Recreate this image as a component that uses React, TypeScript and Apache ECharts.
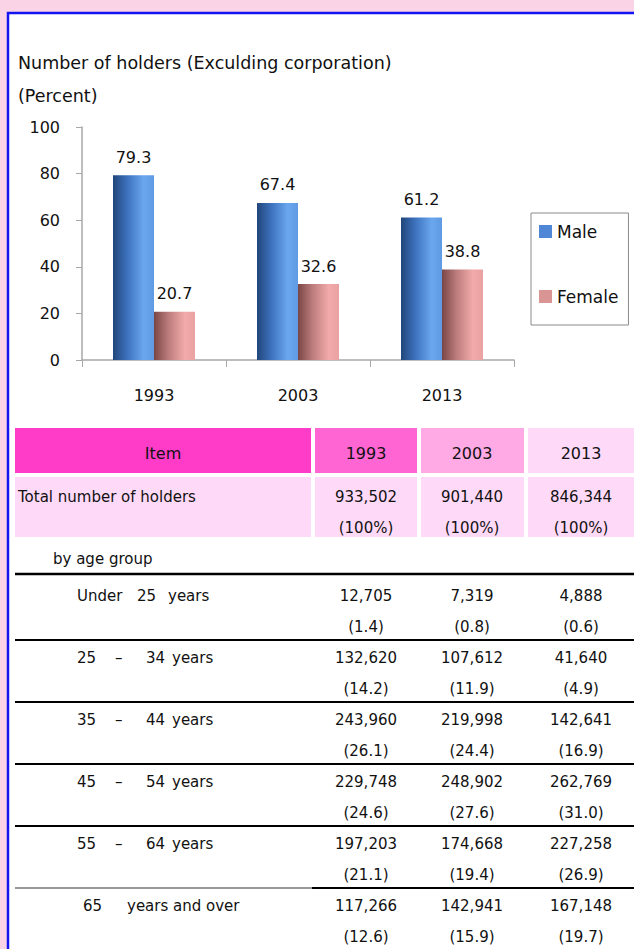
import React, { useEffect, useRef } from "react";
import * as echarts from "echarts";

const years = ["1993", "2003", "2013"];
const maleShare = [79.3, 67.4, 61.2];
const femaleShare = [20.7, 32.6, 38.8];

const totalHolders = [933502, 901440, 846344];
const totalShare = ["100%", "100%", "100%"];

const ageGroupLabels = [
  ["Under", "25", "years"],
  ["25", "–", "34", "years"],
  ["35", "–", "44", "years"],
  ["45", "–", "54", "years"],
  ["55", "–", "64", "years"],
  ["65", "years and over"],
];
const holders1993 = [12705, 132620, 243960, 229748, 197203, 117266];
const holders2003 = [7319, 107612, 219998, 248902, 174668, 142941];
const holders2013 = [4888, 41640, 142641, 262769, 227258, 167148];
const share1993 = [1.4, 14.2, 26.1, 24.6, 21.1, 12.6];
const share2003 = [0.8, 11.9, 24.4, 27.6, 19.4, 15.9];
const share2013 = [0.6, 4.9, 16.9, 31.0, 26.9, 19.7];

const FONT = "DejaVu Sans";

function txt(x: number, y: number, text: string, size: number, align = "left") {
  return {
    type: "text",
    x,
    y,
    z: 5,
    style: {
      text,
      fill: "#111",
      fontSize: size,
      fontFamily: FONT,
      align,
      verticalAlign: "middle",
      textAlign: align,
      textVerticalAlign: "middle",
    },
  };
}

export default function App() {
  const ref = useRef<HTMLDivElement>(null);
  useEffect(() => {
    if (!ref.current) return;
    const chart = echarts.init(ref.current, null, { renderer: "svg" });

    const colX = [
      [315, 417],
      [421, 524],
      [528, 640],
    ];
    const colCenter = [366, 472, 581];
    const headerColors = ["#FF66D4", "#FFAAE4", "#FFDAF8"];
    const els: any[] = [];

    // frame
    els.push({
      type: "rect",
      z: -1,
      shape: { x: 8, y: 13, width: 660, height: 960 },
      style: { fill: "#ffffff", stroke: "#1414F2", lineWidth: 2.5 },
    });
    els.push(txt(18, 63, "Number of holders (Exculding corporation)", 17.5));
    els.push(txt(18, 96, "(Percent)", 17.5));

    // header row
    els.push({ type: "rect", shape: { x: 15, y: 428, width: 296, height: 45 }, style: { fill: "#FF3CC8" } });
    els.push(txt(163, 453, "Item", 16, "center"));
    years.forEach((yr, i) => {
      els.push({
        type: "rect",
        shape: { x: colX[i][0], y: 428, width: colX[i][1] - colX[i][0], height: 45 },
        style: { fill: headerColors[i] },
      });
      els.push(txt(colCenter[i], 453, yr, 16, "center"));
    });

    // total row
    els.push({ type: "rect", shape: { x: 15, y: 477, width: 296, height: 60 }, style: { fill: "#FFDAF8" } });
    els.push(txt(18, 497, "Total number of holders", 15));
    years.forEach((_, i) => {
      els.push({
        type: "rect",
        shape: { x: colX[i][0], y: 477, width: colX[i][1] - colX[i][0], height: 60 },
        style: { fill: "#FFDAF8" },
      });
      els.push(txt(colCenter[i], 497, totalHolders[i].toLocaleString("en-US"), 15, "center"));
      els.push(txt(colCenter[i], 528, "(" + totalShare[i] + ")", 15, "center"));
    });

    els.push(txt(53, 559, "by age group", 15));
    els.push({
      type: "line",
      shape: { x1: 15, y1: 574, x2: 640, y2: 574 },
      style: { stroke: "#000", lineWidth: 2.5 },
    });

    const holders = [holders1993, holders2003, holders2013];
    const shares = [share1993, share2003, share2013];
    const partX: Record<number, number[]> = {
      2: [83, 127],
      3: [77, 137, 168],
      4: [77, 115, 146, 172],
    };
    const nRows = ageGroupLabels.length;
    ageGroupLabels.forEach((parts, r) => {
      const yv = 596 + 62 * r;
      const xs = partX[parts.length];
      parts.forEach((p, k) => els.push(txt(xs[k], yv, p, 15)));
      for (let c = 0; c < 3; c++) {
        els.push(txt(colCenter[c], yv, holders[c][r].toLocaleString("en-US"), 15, "center"));
        els.push(txt(colCenter[c], yv + 31, "(" + shares[c][r].toFixed(1) + ")", 15, "center"));
      }
      const ly = 640 + 62 * r;
      if (r < nRows - 2) {
        els.push({
          type: "line",
          shape: { x1: 15, y1: ly, x2: 640, y2: ly },
          style: { stroke: "#000", lineWidth: 2 },
        });
      } else if (r === nRows - 2) {
        els.push({
          type: "line",
          shape: { x1: 15, y1: ly, x2: 312, y2: ly },
          style: { stroke: "#333", lineWidth: 1.2 },
        });
        els.push({
          type: "line",
          shape: { x1: 312, y1: ly, x2: 640, y2: ly },
          style: { stroke: "#000", lineWidth: 2 },
        });
      }
    });

    const maleGrad = new echarts.graphic.LinearGradient(0, 0, 1, 0, [
      { offset: 0, color: "#21467A" },
      { offset: 0.35, color: "#3D72BE" },
      { offset: 0.75, color: "#6AA7EE" },
      { offset: 1, color: "#5F9AE2" },
    ]);
    const femaleGrad = new echarts.graphic.LinearGradient(0, 0, 1, 0, [
      { offset: 0, color: "#7A4646" },
      { offset: 0.35, color: "#BC7C7C" },
      { offset: 0.75, color: "#F2AAAA" },
      { offset: 1, color: "#E9A1A1" },
    ]);

    chart.setOption({
      animation: false,
      backgroundColor: "#FBD3E7",
      textStyle: { fontFamily: FONT },
      grid: { left: 82, top: 127, width: 432, height: 233 },
      legend: {
        orient: "vertical",
        left: 531,
        top: 213,
        padding: [10, 10, 20, 8],
        itemGap: 48,
        itemWidth: 13,
        itemHeight: 13,
        icon: "rect",
        borderColor: "#8a8a8a",
        borderWidth: 1,
        textStyle: { fontSize: 17, color: "#111", fontFamily: FONT },
        data: [
          { name: "Male", itemStyle: { color: "#4F86D6" } },
          { name: "Female", itemStyle: { color: "#D99594" } },
        ],
      },
      xAxis: {
        type: "category",
        data: years,
        axisLine: { lineStyle: { color: "#A8A8A8", width: 1.5 } },
        axisTick: { show: true, length: 7, interval: 0, lineStyle: { color: "#A8A8A8" } },
        axisLabel: { margin: 27, fontSize: 16, color: "#111", fontFamily: FONT },
      },
      yAxis: {
        type: "value",
        min: 0,
        max: 100,
        interval: 20,
        axisLine: { show: true, lineStyle: { color: "#A8A8A8", width: 1.5 } },
        axisTick: { show: true, length: 6, lineStyle: { color: "#A8A8A8" } },
        splitLine: { show: false },
        axisLabel: { margin: 22, fontSize: 16, color: "#111", fontFamily: FONT },
      },
      series: [
        {
          name: "Male",
          type: "bar",
          data: maleShare,
          barWidth: 41,
          barGap: "0%",
          itemStyle: { color: maleGrad },
          label: { show: true, position: "top", distance: 10, fontSize: 16, color: "#111", fontFamily: FONT },
        },
        {
          name: "Female",
          type: "bar",
          data: femaleShare,
          barWidth: 41,
          barGap: "0%",
          itemStyle: { color: femaleGrad },
          label: { show: true, position: "top", distance: 10, fontSize: 16, color: "#111", fontFamily: FONT },
        },
      ],
      graphic: { elements: els },
    });
    return () => chart.dispose();
  }, []);
  return (
    <div
      ref={ref}
      style={{ position: "absolute", left: 0, top: 0, width: 634, height: 949 }}
    />
  );
}
